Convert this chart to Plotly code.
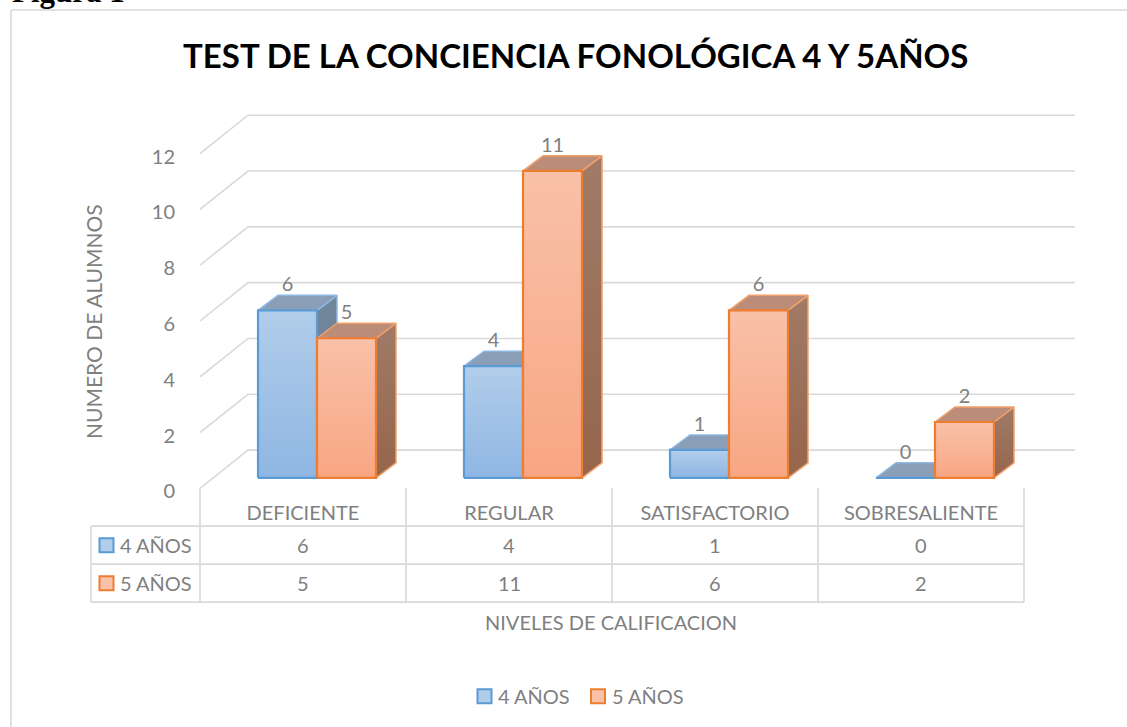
import plotly.graph_objects as go

categories = ["DEFICIENTE", "REGULAR", "SATISFACTORIO", "SOBRESALIENTE"]
series_names = ["4 AÑOS", "5 AÑOS"]
values_4 = [6, 4, 1, 0]
values_5 = [5, 11, 6, 2]
y_ticks = [0, 2, 4, 6, 8, 10, 12]

W, H = 1127, 727
X0, XR = 200, 1075
Y0, YT = 488.3, 100
CAT = 206.0
UNIT = 27.9
Y_LOW = -0.2
YB = Y0 - Y_LOW * UNIT
TICK_SHIFT = 3 / UNIT
GREY = "#7f7f7f"
LINE = "#d9d9d9"
FONT = "Lato"
FS = 20

def ux(px): return (px - X0) / CAT
def uy(px): return (Y0 - px) / UNIT
def px_paper(px): return (px - X0) / (XR - X0)
def py_paper(py): return (YB - py) / (YB - YT)

BASE = 10.6 / UNIT
DX_BAR, DY_BAR = 20 / CAT, 15 / UNIT
DX_WALL, DY_WALL = 49 / CAT, 38.3 / UNIT
BAR_W = 59 / CAT
OFFSET = 58 / CAT

STYLES = [
    dict(line="#5b9bd5", front=("#b1cdea", "#8fb6e3"), top="#8a9eb8", side=("#71859b", "#6a7f98"), soft="#8db8e0"),
    dict(line="#ed7d31", front=("#f9c1a9", "#f8a682"), top="#bb8d78", side=("#a07b67", "#96654c"), soft="#f2a06a"),
]

fig = go.Figure()

# wall / floor gridlines
gx, gy = [], []
for v in y_ticks:
    gx += [0, ux(248), ux(XR), None]
    gy += [v, v + DY_WALL, v + DY_WALL, None]
fig.add_trace(go.Scatter(x=gx, y=gy, mode="lines", line=dict(color=LINE, width=1.6),
                         hoverinfo="skip", showlegend=False, cliponaxis=False))

def grad(c):
    return dict(type="vertical", colorscale=[[0, c[1]], [1, c[0]]])

for i, cat in enumerate(categories):
    for s, vals in enumerate([values_4, values_5]):
        st = STYLES[s]
        v = vals[i]
        x1 = i + OFFSET + s * BAR_W
        x2 = x1 + BAR_W
        yb, yt = BASE, BASE + v
        # side face
        if v > 0:
            fig.add_trace(go.Scatter(
                x=[x2, x2 + DX_BAR, x2 + DX_BAR, x2, x2],
                y=[yb, yb + DY_BAR, yt + DY_BAR, yt, yb],
                mode="lines", fill="toself", fillgradient=grad(st["side"]),
                line=dict(color=st["soft"], width=1.5), hoverinfo="skip",
                showlegend=False, cliponaxis=False))
        # top face
        fig.add_trace(go.Scatter(
            x=[x1, x2, x2 + DX_BAR, x1 + DX_BAR, x1],
            y=[yt, yt, yt + DY_BAR, yt + DY_BAR, yt],
            mode="lines", fill="toself", fillcolor=st["top"],
            line=dict(color=st["soft"], width=1.5), hoverinfo="skip",
            showlegend=False, cliponaxis=False))
        # front face
        if v > 0:
            fig.add_trace(go.Scatter(
                x=[x1, x2, x2, x1, x1], y=[yb, yb, yt, yt, yb],
                mode="lines", fill="toself", fillgradient=grad(st["front"]),
                line=dict(color=st["line"], width=2.2), hoverinfo="skip",
                showlegend=False, cliponaxis=False))
        else:
            fig.add_trace(go.Scatter(
                x=[x1, x2], y=[yb, yb], mode="lines",
                line=dict(color=st["line"], width=2.2), hoverinfo="skip",
                showlegend=False, cliponaxis=False))

# data labels (drawn last so they sit over everything)
for s, vals in enumerate([values_4, values_5]):
    fig.add_trace(go.Scatter(
        x=[i + OFFSET + (s + 0.5) * BAR_W for i in range(len(categories))],
        y=[BASE + v + 24 / UNIT for v in vals],
        mode="text", text=[str(v) for v in vals], textposition="middle center",
        textfont=dict(family=FONT, size=FS, color=GREY),
        hoverinfo="skip", showlegend=False, cliponaxis=False))

shapes = []
def line(x0, y0, x1, y1, w=1.6):
    shapes.append(dict(type="line", xref="paper", yref="paper", layer="below",
                       x0=px_paper(x0), x1=px_paper(x1), y0=py_paper(y0), y1=py_paper(y1),
                       line=dict(color=LINE, width=w)))

def swatch(x, cy, s):
    shapes.append(dict(type="rect", xref="paper", yref="paper", layer="above",
                       x0=px_paper(x), x1=px_paper(x + 14), y0=py_paper(cy - 7), y1=py_paper(cy + 7),
                       fillcolor=STYLES[s]["front"][0], line=dict(color=STYLES[s]["line"], width=2)))

# chart frame
line(11, 10, W, 10)
line(11, 10, 11, H)

# data table
cols = [X0 + CAT * k for k in range(len(categories) + 1)]
rows = [526, 564, 602]
for r in rows:
    line(91, r, cols[-1], r)
line(91, rows[0], 91, rows[-1])
for c in cols:
    line(c, 488, c, rows[-1])

annotations = []
def text(x, y, t, size=FS, color=GREY, bold=False, angle=0, family=FONT, xanchor="center"):
    annotations.append(dict(xref="paper", yref="paper", x=px_paper(x), y=py_paper(y),
                            text=f"<b>{t}</b>" if bold else t,
                            showarrow=False, textangle=angle, xanchor=xanchor, yanchor="middle",
                            font=dict(family=family, size=size, color=color)))

text(575, 55, "TEST DE LA CONCIENCIA FONOLÓGICA 4 Y 5AÑOS", size=33, color="#000000", bold=True)
text(93, 322, "NUMERO DE ALUMNOS", size=21, angle=-90)
text(611, 622, "NIVELES DE CALIFICACION", size=FS)
text(10, -8, "Figura 1", size=31, color="#000000", bold=True, family="Liberation Serif", xanchor="left")

for s, (name, vals) in enumerate(zip(series_names, [values_4, values_5])):
    cy = (rows[s] + rows[s + 1]) / 2
    swatch(99.5, cy, s)
    text(117.5, cy, name, xanchor="left")
    for i, v in enumerate(vals):
        text(cols[i] + CAT / 2, cy, str(v))

# legend
for s, (sx, tx) in enumerate([(477.5, 495.5), (591, 609.5)]):
    swatch(sx, 696, s)
    text(tx, 696, series_names[s], xanchor="left")

fig.update_layout(
    width=W, height=H, autosize=False,
    margin=dict(l=X0, r=W - XR, t=YT, b=H - YB, pad=0),
    paper_bgcolor="white", plot_bgcolor="white",
    shapes=shapes, annotations=annotations, showlegend=False,
    font=dict(family=FONT, size=FS, color=GREY),
    xaxis=dict(range=[0, ux(XR)], tickmode="array",
               tickvals=[i + 0.5 for i in range(len(categories))], ticktext=categories,
               showgrid=False, zeroline=False, showline=False, ticks="",
               tickfont=dict(family=FONT, size=FS, color=GREY), ticklabelstandoff=5),
    yaxis=dict(range=[Y_LOW, uy(YT)], tickmode="array",
               tickvals=[v - TICK_SHIFT for v in y_ticks], ticktext=[str(v) for v in y_ticks],
               showgrid=False, zeroline=False, showline=False, ticks="",
               tickfont=dict(family=FONT, size=FS, color=GREY), ticklabelstandoff=24),
)

fig.write_html("out.html", config={"displayModeBar": False},
               post_script="document.body.style.margin='0';document.documentElement.style.overflow='hidden';")
